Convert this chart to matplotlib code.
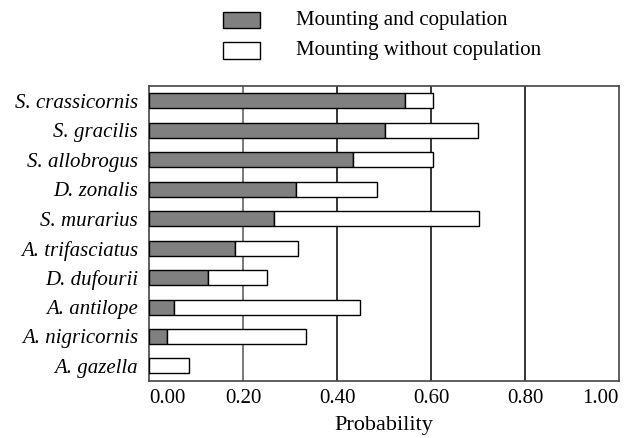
import matplotlib
matplotlib.use("Agg")
import matplotlib.pyplot as plt
from matplotlib.patches import Rectangle

species = ["S. crassicornis", "S. gracilis", "S. allobrogus", "D. zonalis",
           "S. murarius", "A. trifasciatus", "D. dufourii", "A. antilope",
           "A. nigricornis", "A. gazella"]
with_copulation = [0.545, 0.501, 0.434, 0.312, 0.266, 0.182, 0.124, 0.053, 0.037, 0.0]
total_mounting = [0.604, 0.699, 0.604, 0.484, 0.702, 0.316, 0.250, 0.449, 0.333, 0.085]
without_copulation = [t - c for t, c in zip(total_mounting, with_copulation)]
xticks = [0.0, 0.2, 0.4, 0.6, 0.8, 1.0]
xtick_labels = ["0.00", "0.20", "0.40", "0.60", "0.80", "1.00"]
legend_labels = ["Mounting and copulation", "Mounting without copulation"]

plt.rcParams['font.family'] = ['Liberation Serif', 'DejaVu Serif']

W, H = 630, 438
fig = plt.figure(figsize=(W / 100, H / 100), dpi=100)
ax = fig.add_axes([149.3 / W, 1 - 380.7 / H, (619 - 149.3) / W, (380.7 - 86) / H])

y = list(range(len(species)))
ax.barh(y, with_copulation, height=0.51, color="#808080", edgecolor="black", linewidth=1.0, zorder=3)
ax.barh(y, without_copulation, left=with_copulation, height=0.51, color="white",
        edgecolor="black", linewidth=1.0, zorder=3)

ax.set_xlim(0, 1.0)
ax.set_ylim(len(species) - 0.5, -0.5)
ax.set_yticks(y)
ax.set_yticklabels(species, fontstyle="italic", fontsize=15)
ax.set_xticks(xticks)
labels = ax.set_xticklabels(xtick_labels, fontsize=15)
labels[0].set_horizontalalignment("left")
labels[-1].set_horizontalalignment("right")
ax.tick_params(axis="both", length=0, pad=6)
ax.tick_params(axis="y", pad=8)
grid_colors = ["#555555", "black", "black", "black"]
for xv, gc in zip(xticks[1:-1], grid_colors):
    ax.axvline(xv, color=gc, linewidth=1.1, zorder=1)
for s in ax.spines.values():
    s.set_color("#444444")
    s.set_linewidth(1.2)
ax.set_xlabel("Probability", fontsize=16, labelpad=6)

# legend
fc = ["#808080", "white"]
ys = [(12, 28.3), (41.7, 59.3)]
for (y0, y1), c, lab in zip(ys, fc, legend_labels):
    fig.add_artist(Rectangle((223.3 / W, 1 - y1 / H), (260 - 223.3) / W, (y1 - y0) / H,
                             transform=fig.transFigure, facecolor=c, edgecolor="black", linewidth=1.0))
    fig.text(296 / W, 1 - (y0 + y1) / 2 / H, lab, fontsize=15, va="center", ha="left")

fig.savefig("out.png", dpi=100)
